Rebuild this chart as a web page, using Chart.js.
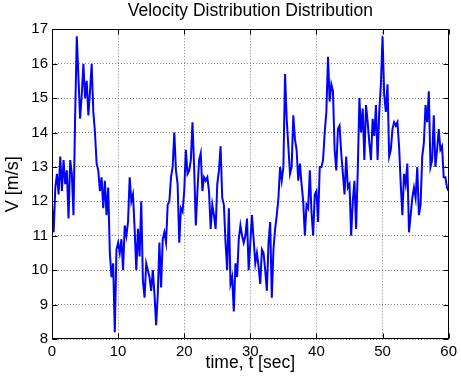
<!DOCTYPE html>
<html>
<head>
<meta charset="utf-8">
<script src="https://cdn.jsdelivr.net/npm/chart.js@4.4.1/dist/chart.umd.min.js"></script>
<style>
  html, body { margin: 0; padding: 0; background: #fff; }
  #wrap { width: 461px; height: 383px; }
</style>
</head>
<body>
<div id="wrap"><canvas id="velChart" width="461" height="383"></canvas></div>
<script>
// velocity samples, one every 0.25 s
const dt = 0.25;
const v0to10 = [
  11.9, 11.1, 12.4, 12.8, 12.2, 13.3, 12.3, 13.2, 12.5, 12.9,
  11.5, 13.2, 12.8, 11.6, 14.5, 16.8, 15.6, 14.4, 15.1, 16.0,
  15.0, 15.5, 14.5, 15.2, 16.0, 14.6, 14.0, 13.1, 12.9, 12.3,
  12.7, 11.8, 12.6, 11.6, 12.4, 10.5, 9.8, 10.2, 8.2, 10.6
];
const v10to20 = [
  10.8, 10.5, 10.9, 10.0, 11.3, 11.0, 11.4, 12.7, 12.0, 12.2,
  11.2, 10.0, 11.2, 10.4, 12.0, 9.7, 9.2, 10.2, 10.0, 9.8,
  9.4, 10.0, 9.3, 8.4, 9.3, 10.8, 9.5, 10.9, 11.1, 10.8,
  11.9, 12.0, 12.7, 13.0, 14.0, 12.9, 12.5, 10.8, 11.8, 11.7
];
const v20to30 = [
  12.3, 13.5, 12.8, 12.9, 13.2, 14.3, 13.0, 11.3, 12.3, 13.2,
  13.4, 12.3, 12.7, 12.6, 12.7, 12.3, 11.2, 11.9, 11.6, 11.2,
  12.5, 12.9, 13.6, 12.1, 11.9, 10.8, 10.0, 11.8, 9.6, 9.8,
  8.8, 10.2, 9.8, 10.9, 11.3, 11.0, 10.8, 11.0, 11.5, 10.0
];
const v30to40 = [
  10.8, 11.6, 10.9, 10.2, 10.5, 10.1, 9.6, 10.6, 10.5, 10.0,
  9.4, 10.8, 11.4, 9.2, 10.6, 11.2, 11.6, 12.1, 13.0, 12.6,
  13.0, 15.7, 14.4, 13.6, 12.8, 13.0, 14.5, 13.8, 13.5, 12.6,
  13.1, 12.5, 12.0, 11.0, 11.9, 11.8, 12.9, 11.7, 11.0, 12.2
];
const v40to50 = [
  12.3, 11.4, 13.0, 13.0, 13.2, 14.0, 14.6, 16.2, 14.9, 15.4,
  15.2, 13.5, 12.9, 14.1, 14.2, 13.4, 12.8, 12.2, 13.3, 12.4,
  12.5, 11.0, 12.0, 12.6, 11.2, 12.9, 15.0, 14.0, 14.7, 13.2,
  14.8, 14.3, 13.7, 13.2, 14.4, 13.9, 14.8, 13.2, 14.6, 15.4
];
const v50to60 = [
  16.8, 15.1, 14.6, 15.4, 13.3, 13.5, 14.1, 14.3, 14.2, 14.3,
  13.6, 12.5, 11.6, 12.8, 12.5, 13.1, 11.1, 11.6, 12.1, 12.4,
  12.1, 13.0, 11.6, 11.9, 13.3, 13.7, 14.8, 14.3, 15.2, 13.0,
  13.2, 14.5, 13.0, 13.5, 14.1, 13.5, 13.6, 12.7, 12.7, 12.4, 12.3
];
const xTicks = [0, 10, 20, 30, 40, 50, 60];
const yTicks = [8, 9, 10, 11, 12, 13, 14, 15, 16, 17];

const velocity = [].concat(v0to10, v10to20, v20to30, v30to40, v40to50, v50to60);
const points = velocity.map((v, i) => ({ x: i * dt, y: v }));

const FONT = '"Liberation Sans", Arial, sans-serif';

// matlab style box with inward ticks on all four sides
const boxTicks = {
  id: 'boxTicks',
  afterDatasetsDraw(chart) {
    const { ctx, chartArea: a, scales: { x, y } } = chart;
    const L = Math.round(a.left) + 0.5, R = Math.round(a.right) - 0.5;
    const T = Math.round(a.top) + 0.5, B = Math.round(a.bottom) - 0.5;
    const len = 5;
    ctx.save();
    ctx.strokeStyle = '#000';
    ctx.lineWidth = 1;
    ctx.beginPath();
    ctx.rect(L, T, R - L, B - T);
    xTicks.forEach(t => {
      const px = Math.round(x.getPixelForValue(t)) + 0.5;
      ctx.moveTo(px, B); ctx.lineTo(px, B - len);
      ctx.moveTo(px, T); ctx.lineTo(px, T + len);
    });
    yTicks.forEach(t => {
      const py = Math.round(y.getPixelForValue(t)) + 0.5;
      ctx.moveTo(L, py); ctx.lineTo(L + len, py);
      ctx.moveTo(R, py); ctx.lineTo(R - len, py);
    });
    ctx.stroke();
    ctx.restore();
  }
};

new Chart(document.getElementById('velChart'), {
  type: 'line',
  data: {
    datasets: [{
      data: points,
      borderColor: '#0000ff',
      borderWidth: 2,
      pointRadius: 0,
      tension: 0,
      fill: false
    }]
  },
  options: {
    responsive: false,
    animation: false,
    devicePixelRatio: 1,
    layout: { padding: { left: 0, right: 11, top: 0, bottom: 0 } },
    plugins: {
      legend: { display: false },
      tooltip: { enabled: false },
      title: {
        display: true,
        fullSize: false,
        text: 'Velocity Distribution Distribution',
        color: '#000',
        font: { family: FONT, size: 17.5, weight: 'normal' },
        padding: { top: 0.5, bottom: 7.8 }
      }
    },
    scales: {
      x: {
        type: 'linear',
        min: 0,
        max: 60,
        afterBuildTicks: s => { s.ticks = xTicks.map(v => ({ value: v })); },
        afterFit: s => { s.height = 44; },
        ticks: { color: '#000', padding: 4, maxRotation: 0, font: { family: FONT, size: 15 } },
        grid: { color: '#808080', lineWidth: 1, drawTicks: false },
        border: { display: false, dash: [1, 2] },
        title: {
          display: true,
          text: 'time, t [sec]',
          color: '#000',
          font: { family: FONT, size: 17.5 },
          padding: { top: 0, bottom: 9 }
        }
      },
      y: {
        min: 8,
        max: 17,
        afterBuildTicks: s => { s.ticks = yTicks.map(v => ({ value: v })); },
        afterFit: s => { s.width = 52; },
        ticks: { color: '#000', padding: 4, font: { family: FONT, size: 15 } },
        grid: { color: '#808080', lineWidth: 1, drawTicks: false },
        border: { display: false, dash: [1, 2] },
        title: {
          display: true,
          text: 'V [m/s]',
          color: '#000',
          font: { family: FONT, size: 18 },
          padding: { top: 2, bottom: 0 }
        }
      }
    }
  },
  plugins: [boxTicks]
});
</script>
</body>
</html>
